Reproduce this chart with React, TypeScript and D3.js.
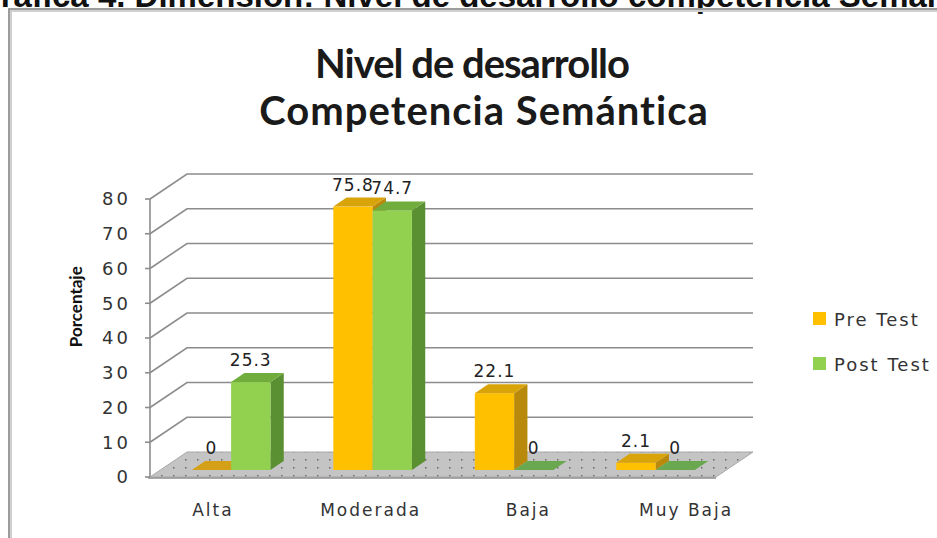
import React, { useEffect, useRef } from "react";
import * as d3 from "d3";

// chart values
const categories = ["Alta", "Moderada", "Baja", "Muy Baja"];
const seriesNames = ["Pre Test", "Post Test"];
const preTest = [0, 75.8, 22.1, 2.1];
const postTest = [25.3, 74.7, 0, 0];
const yTicks = [0, 10, 20, 30, 40, 50, 60, 70, 80];

const W = 937;
const H = 538;

const App = () => {
  const svgRef = useRef<SVGSVGElement>(null);

  useEffect(() => {
    const svg = d3.select(svgRef.current);
    svg.selectAll("*").remove();

    const labelFont = "DejaVu Sans, Verdana, sans-serif";

    // 3D geometry: front plane of the floor and a depth vector
    const frontLeft = 150;
    const frontRight = 716;
    const depth = { dx: 37, dy: -25 };
    const barFront = 0.28; // fraction of depth where bars start
    const barBack = 0.64;

    const y = d3.scaleLinear().domain([0, 80]).range([477, 199]);
    const x = d3.scaleBand<string>().domain(categories).range([frontLeft, frontRight]);
    const xInner = d3
      .scaleBand<string>()
      .domain(seriesNames)
      .range([0, x.bandwidth()])
      .paddingInner(0)
      .paddingOuter(0.8);
    // category labels sit on their own spacing in the original
    const xLabel = d3.scaleBand<string>().domain(categories).range([134, 765]);

    const proj = (px: number, v: number, f: number): [number, number] => [
      px + f * depth.dx,
      y(v) + f * depth.dy,
    ];

    // pattern for the floor
    const defs = svg.append("defs");
    const pat = defs
      .append("pattern")
      .attr("id", "floorDots")
      .attr("width", 12)
      .attr("height", 8)
      .attr("patternUnits", "userSpaceOnUse");
    pat.append("rect").attr("width", 12).attr("height", 8).attr("fill", "#c4c4c4");
    pat.append("rect").attr("x", 5).attr("y", 3).attr("width", 1.5).attr("height", 1.5).attr("fill", "#6a6a6a");

    // top cut-off caption
    svg
      .append("text")
      .attr("x", -25)
      .attr("y", 7)
      .attr("font-family", "Liberation Sans, Arial, sans-serif")
      .attr("font-weight", "bold")
      .attr("font-size", 33)
      .attr("fill", "#111")
      .text("Gráfica 4. Dimensión: Nivel de desarrollo competencia Semántica");

    // frame
    svg
      .append("path")
      .attr("d", `M10,${H} L10,10 L${W},10`)
      .attr("fill", "none")
      .attr("stroke", "#d0d0d0")
      .attr("stroke-width", 4);
    svg
      .append("path")
      .attr("d", `M9,${H} L9,9 L${W},9`)
      .attr("fill", "none")
      .attr("stroke", "#8a8a8a")
      .attr("stroke-width", 1.5);

    // title
    const title = svg
      .append("text")
      .attr("text-anchor", "middle")
      .attr("font-family", "Lato, Open Sans, sans-serif")
      .attr("font-weight", "bold")
      .attr("font-size", 40)
      .attr("fill", "#1a1a1a");
    title
      .append("tspan")
      .attr("x", 472)
      .attr("y", 78)
      .attr("letter-spacing", -1)
      .text("Nivel de desarrollo");
    title
      .append("tspan")
      .attr("x", 484)
      .attr("y", 125)
      .attr("letter-spacing", 1)
      .text("Competencia Semántica");

    // floor
    const floor = [
      proj(frontLeft, 0, 0),
      proj(frontLeft, 0, 1),
      proj(frontRight, 0, 1),
      proj(frontRight, 0, 0),
    ];
    svg
      .append("polygon")
      .attr("points", floor.map((p) => p.join(",")).join(" "))
      .attr("fill", "url(#floorDots)")
      .attr("stroke", "#a8a8a8")
      .attr("stroke-width", 1);

    // gridlines: side wall diagonal + back wall horizontal
    const backRight = proj(frontRight, 0, 1)[0];
    const grid = svg.append("g").attr("stroke", "#8c8c8c").attr("stroke-width", 1.6).attr("fill", "none");
    yTicks
      .filter((t) => t > 0)
      .forEach((t) => {
        const a = proj(frontLeft, t, 0);
        const b = proj(frontLeft, t, 1);
        grid
          .append("path")
          .attr("d", `M${a[0]},${a[1]} L${b[0]},${b[1]} L${backRight},${b[1]}`);
      });

    // y axis
    const axis = svg.append("g").attr("stroke", "#8c8c8c").attr("stroke-width", 1.6);
    axis
      .append("line")
      .attr("x1", frontLeft)
      .attr("x2", frontLeft)
      .attr("y1", y(80))
      .attr("y2", y(0));
    yTicks.forEach((t) => {
      axis
        .append("line")
        .attr("x1", frontLeft - 5)
        .attr("x2", frontLeft)
        .attr("y1", y(t))
        .attr("y2", y(t));
    });
    axis
      .append("line")
      .attr("x1", frontLeft - 2)
      .attr("x2", frontRight)
      .attr("y1", y(0) + 1)
      .attr("y2", y(0) + 1);

    svg
      .append("g")
      .selectAll("text")
      .data(yTicks)
      .join("text")
      .attr("x", 131)
      .attr("y", (d) => y(d))
      .attr("dy", "0.36em")
      .attr("text-anchor", "end")
      .attr("font-family", labelFont)
      .attr("font-size", 18)
      .attr("letter-spacing", 3)
      .attr("fill", "#333")
      .text((d) => d);

    svg
      .append("text")
      .attr("transform", `translate(82,${y(49)}) rotate(-90)`)
      .attr("text-anchor", "middle")
      .attr("font-family", "Lato, Open Sans, sans-serif")
      .attr("font-weight", "bold")
      .attr("font-size", 17)
      .attr("fill", "#111")
      .text("Porcentaje");

    // bars
    const colors = {
      "Pre Test": { front: "#ffc000", top: "#d9a40a", side: "#b8890a", flat: "#d4a017" },
      "Post Test": { front: "#92d050", top: "#70ad3c", side: "#5b9032", flat: "#6aa84f" },
    };
    const values: Record<string, number[]> = { "Pre Test": preTest, "Post Test": postTest };
    const bars = svg.append("g");
    const labels = svg.append("g");

    categories.forEach((cat, i) => {
      seriesNames.forEach((s) => {
        const v = values[s][i];
        const c = colors[s as keyof typeof colors];
        const bx = (x(cat) as number) + (xInner(s) as number);
        const bw = xInner.bandwidth();
        const f0 = proj(bx, 0, barFront);
        const f1 = proj(bx, v, barFront);
        const poly = (pts: [number, number][]) => pts.map((p) => p.join(",")).join(" ");
        const topFace = [
          proj(bx, v, barFront),
          proj(bx + bw, v, barFront),
          proj(bx + bw, v, barBack),
          proj(bx, v, barBack),
        ];
        if (v > 0) {
          // side
          bars
            .append("polygon")
            .attr(
              "points",
              poly([
                proj(bx + bw, 0, barFront),
                proj(bx + bw, v, barFront),
                proj(bx + bw, v, barBack),
                proj(bx + bw, 0, barBack),
              ])
            )
            .attr("fill", c.side);
          bars
            .append("rect")
            .attr("x", f1[0])
            .attr("y", f1[1])
            .attr("width", bw)
            .attr("height", f0[1] - f1[1])
            .attr("fill", c.front);
          bars.append("polygon").attr("points", poly(topFace)).attr("fill", c.top);
        } else {
          bars.append("polygon").attr("points", poly(topFace)).attr("fill", c.flat);
        }

        labels
          .append("text")
          .attr("x", f1[0] + bw / 2)
          .attr("y", f1[1] - 16)
          .attr("text-anchor", "middle")
          .attr("font-family", labelFont)
          .attr("font-size", 17)
          .attr("letter-spacing", 1)
          .attr("fill", "#222")
          .text(v);
      });
    });

    // category labels
    svg
      .append("g")
      .selectAll("text")
      .data(categories)
      .join("text")
      .attr("x", (d) => (xLabel(d) as number) + xLabel.bandwidth() / 2)
      .attr("y", 516)
      .attr("text-anchor", "middle")
      .attr("font-family", labelFont)
      .attr("font-size", 17)
      .attr("letter-spacing", 2)
      .attr("fill", "#333")
      .text((d) => d);

    // legend
    const legend = svg.append("g").attr("transform", "translate(813,312)");
    seriesNames.forEach((s, i) => {
      const c = colors[s as keyof typeof colors];
      legend
        .append("rect")
        .attr("x", 0)
        .attr("y", i * 45)
        .attr("width", 13)
        .attr("height", 13)
        .attr("fill", c.front);
      legend
        .append("text")
        .attr("x", 21)
        .attr("y", i * 45 + 14)
        .attr("font-family", labelFont)
        .attr("font-size", 18)
        .attr("letter-spacing", 2)
        .attr("fill", "#333")
        .text(s);
    });
  }, []);

  return (
    <svg
      ref={svgRef}
      width={W}
      height={H}
      style={{ position: "absolute", left: 0, top: 0, background: "#fff" }}
    />
  );
};

export default App;
